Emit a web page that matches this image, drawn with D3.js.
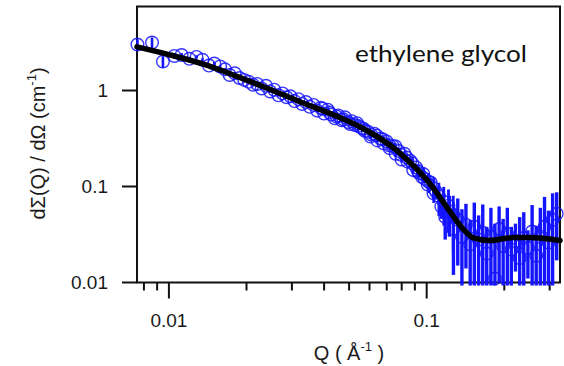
<!DOCTYPE html>
<html><head><meta charset="utf-8">
<script src="https://cdn.jsdelivr.net/npm/d3@7"></script>
<style>body{margin:0;background:#fff} svg{display:block}</style>
</head><body><svg id="c" width="564" height="366"></svg>
<script>
// ---- data ----
const qLow = [0.00755,0.0086,0.00948,0.0105,0.0112,0.012,0.0128,0.0135,0.0143,0.015,0.0158,0.0165,0.0172,0.018,0.0188,0.0196,0.0204,0.0212,0.022,0.0229,0.0238,0.0247,0.0256,0.0266,0.0276,0.0286,0.0296,0.0307,0.0318,0.0329,0.034,0.0352,0.0364,0.0376,0.0388,0.04,0.0413,0.0426,0.044,0.0454,0.0468,0.0482,0.0497,0.0512,0.0527,0.0543,0.0559,0.0575,0.0592,0.0609,0.0626,0.0644,0.0662,0.068,0.0699,0.0718,0.0738,0.0758,0.0778,0.0799,0.082,0.0842,0.0864,0.0887,0.091,0.0934,0.0958,0.0983,0.101,0.1036,0.1063,0.109];
const iLow = [3.01,3.16,2.0,2.29,2.34,2.14,2.24,2.09,1.82,1.91,1.78,1.66,1.45,1.51,1.35,1.29,1.23,1.15,1.17,1.05,1.12,0.977,1.02,0.891,0.933,0.851,0.871,0.776,0.813,0.724,0.759,0.676,0.708,0.617,0.661,0.575,0.631,0.562,0.513,0.55,0.49,0.525,0.468,0.479,0.437,0.427,0.407,0.38,0.372,0.347,0.355,0.302,0.316,0.282,0.295,0.251,0.263,0.219,0.234,0.191,0.219,0.182,0.186,0.148,0.158,0.138,0.126,0.12,0.105,0.11,0.0851,0.0871];
const eLow = [0.40,0.40,0.28,0.15,0.12,0.10,0.09,0.08,0.07,0.07,0.06,0.05,0.05,0.05,0.04,0.04,0.04,0.035,0.035,0.03,0.03,0.03,0.03,0.03,0.025,0.025,0.025,0.025,0.02,0.02,0.02,0.02,0.02,0.02,0.018,0.018,0.018,0.017,0.016,0.016,0.015,0.015,0.015,0.015,0.014,0.014,0.014,0.013,0.013,0.013,0.013,0.012,0.012,0.012,0.012,0.012,0.012,0.012,0.012,0.012,0.012,0.012,0.012,0.012,0.012,0.012,0.012,0.012,0.012,0.012,0.012,0.012];

const qMid = [0.0395,0.042,0.0447,0.0475,0.0505,0.0537,0.057,0.0605,0.064,0.0677,0.0715,0.0755,0.0795,0.0837,0.088,0.0925,0.097,0.1017,0.1065,0.1115,0.1165,0.1215,0.1268];
const iMid = [0.646,0.589,0.537,0.501,0.447,0.457,0.398,0.331,0.339,0.309,0.269,0.263,0.214,0.2,0.174,0.145,0.135,0.112,0.0955,0.0794,0.0692,0.0631,0.0501];
const eMid = [0.02,0.02,0.02,0.02,0.02,0.02,0.02,0.02,0.02,0.02,0.02,0.02,0.02,0.02,0.022,0.024,0.025,0.026,0.028,0.03,0.03,0.03,0.03];

const qHigh = [0.114,0.118,0.1225,0.127,0.132,0.137,0.142,0.1475,0.153,0.159,0.165,0.171,0.1775,0.184,0.191,0.198,0.2055,0.213,0.221,0.2295,0.238,0.247,0.2565,0.266,0.276,0.2865,0.297,0.308,0.3195];
const iHigh = [0.062,0.048,0.055,0.036,0.045,0.030,0.040,0.025,0.038,0.028,0.033,0.020,0.030,0.011,0.036,0.024,0.032,0.022,0.027,0.018,0.029,0.023,0.034,0.019,0.030,0.038,0.026,0.045,0.052];
const eHigh = [0.016,0.020,0.025,0.024,0.030,0.028,0.026,0.020,0.030,0.022,0.032,0.018,0.030,0.030,0.026,0.022,0.028,0.016,0.014,0.030,0.025,0.012,0.030,0.020,0.030,0.040,0.030,0.040,0.035];

const fitQ = [0.00752,0.00991,0.01343,0.01803,0.0242,0.0328,0.0441,0.0566,0.0767,0.0885,0.103,0.120,0.138,0.151,0.176,0.216,0.252,0.329];
const fitI = [2.85,2.38,1.90,1.43,1.05,0.75,0.549,0.402,0.237,0.166,0.107,0.0604,0.0365,0.0294,0.0274,0.0294,0.0294,0.0274];

const yTicks = [0.01, 0.1, 1];
const yTickLabels = ["0.01", "0.1", "1"];
const xMajor = [0.01, 0.1];
const xMajorLabels = ["0.01", "0.1"];
const xMinor = [0.008,0.009,0.02,0.03,0.04,0.05,0.06,0.07,0.08,0.09,0.2,0.3];

// ---- drawing ----
const svg = d3.select("#c");
const L = 137, R = 560, T = 6.5, B = 282.5;
const x = d3.scaleLog().domain([0.00752, 0.329]).range([L, R]);
const y = d3.scaleLog().domain([0.01, 7.5]).range([B, T]);
const tickFont = "'Liberation Sans', Arial, sans-serif";
const blue = "#1414ff";

// frame
svg.append("rect").attr("x", L).attr("y", T).attr("width", R - L).attr("height", B - T)
  .attr("fill", "none").attr("stroke", "#111").attr("stroke-width", 2);

// y ticks
svg.selectAll(".yt").data(yTicks).join("line")
  .attr("x1", L - 15).attr("x2", L).attr("y1", d => y(d)).attr("y2", d => y(d))
  .attr("stroke", "#111").attr("stroke-width", 2);
svg.selectAll(".yl").data(yTicks).join("text")
  .attr("x", 108).attr("y", d => y(d)).attr("dy", "0.36em")
  .attr("text-anchor", "end").attr("font-family", tickFont).attr("font-size", 19).attr("fill", "#1a1a1a")
  .text((d, i) => yTickLabels[i]);

// x ticks
svg.selectAll(".xM").data(xMajor).join("line")
  .attr("x1", d => x(d)).attr("x2", d => x(d)).attr("y1", B).attr("y2", B + 16)
  .attr("stroke", "#111").attr("stroke-width", 2);
svg.selectAll(".xm").data(xMinor).join("line")
  .attr("x1", d => x(d)).attr("x2", d => x(d)).attr("y1", B).attr("y2", B + 8)
  .attr("stroke", "#111").attr("stroke-width", 2);
svg.selectAll(".xl").data(xMajor).join("text")
  .attr("x", d => x(d)).attr("y", 327)
  .attr("text-anchor", "middle").attr("font-family", tickFont).attr("font-size", 19).attr("fill", "#1a1a1a")
  .text((d, i) => xMajorLabels[i]);

// data
const pts = [];
[[qLow, iLow, eLow, 2.6], [qMid, iMid, eMid, 2.8], [qHigh, iHigh, eHigh, 3.4]].forEach(([q, I, e, w]) => {
  q.forEach((v, k) => pts.push({ q: v, i: I[k], e: e[k], w }));
});
const gData = svg.append("g");
gData.selectAll("line").data(pts).join("line")
  .attr("x1", d => x(d.q)).attr("x2", d => x(d.q))
  .attr("y1", d => y(Math.max(d.i - d.e, 0.0093)))
  .attr("y2", d => y(d.i + d.e))
  .attr("stroke", blue).attr("stroke-width", d => d.w);
gData.selectAll("circle").data(pts).join("circle")
  .attr("cx", d => x(d.q)).attr("cy", d => y(d.i)).attr("r", 6.3)
  .attr("fill", "none").attr("stroke", blue).attr("stroke-opacity", 0.85).attr("stroke-width", 1.4);

// fit line
const fit = fitQ.map((q, k) => [q, fitI[k]]);
svg.append("path").datum(fit)
  .attr("d", d3.line().x(d => x(d[0])).y(d => y(d[1])).curve(d3.curveMonotoneX))
  .attr("fill", "none").attr("stroke", "#000").attr("stroke-width", 5.5).attr("stroke-linecap", "round");

// in-plot label
svg.append("text").attr("x", 355).attr("y", 62)
  .attr("font-family", "Lato, 'Open Sans', sans-serif").attr("font-size", 24).attr("fill", "#111")
  .attr("textLength", 172).attr("lengthAdjust", "spacingAndGlyphs")
  .text("ethylene glycol");

// axis titles
const yt = svg.append("text").attr("transform", "translate(45,143.5) rotate(-90)")
  .attr("text-anchor", "middle").attr("font-family", tickFont).attr("font-size", 20).attr("fill", "#1a1a1a");
yt.append("tspan").text("dΣ(Q) / dΩ (cm");
yt.append("tspan").attr("font-size", 13).attr("dy", -9).text("-1");
yt.append("tspan").attr("dy", 9).text(")");

const xt = svg.append("text").attr("x", 349).attr("y", 360)
  .attr("text-anchor", "middle").attr("font-family", tickFont).attr("font-size", 20).attr("fill", "#1a1a1a");
xt.append("tspan").text("Q ( Å");
xt.append("tspan").attr("font-size", 13).attr("dy", -9).text("-1");
xt.append("tspan").attr("dy", 9).text(" )");
</script></body></html>
